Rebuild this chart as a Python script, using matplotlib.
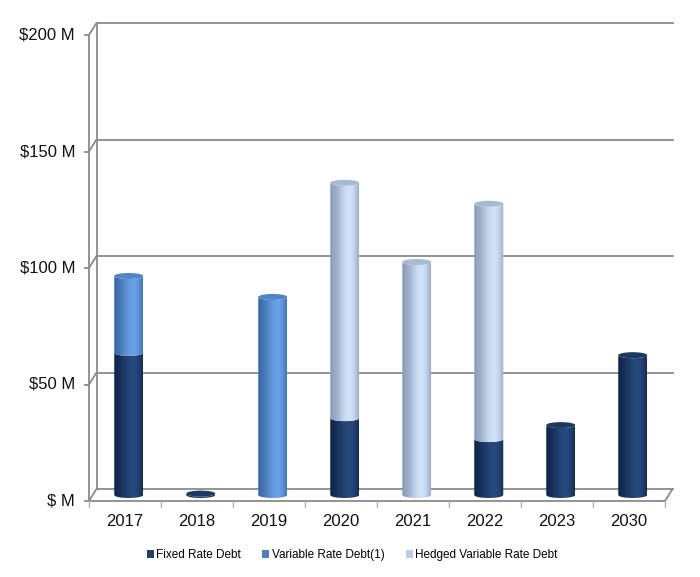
import numpy as np
import matplotlib
matplotlib.use('Agg')
import matplotlib.pyplot as plt
from matplotlib.patches import Ellipse, PathPatch, Patch
from matplotlib.path import Path
import matplotlib.colors as mcolors

plt.rcParams['font.family'] = ['Liberation Sans', 'DejaVu Sans']

years = ['2017', '2018', '2019', '2020', '2021', '2022', '2023', '2030']
fixed = [61, 0.6, 0, 33, 0, 24, 30, 60]
variable = [33, 0, 85, 0, 0, 0, 0, 0]
hedged = [0, 0, 0, 101, 100, 101, 0, 0]
series_names = ['Fixed Rate Debt', 'Variable Rate Debt(1)', 'Hedged Variable Rate Debt']
y_ticks = [0, 50, 100, 150, 200]
y_labels = ['$ M', '$50 M', '$100 M', '$150 M', '$200 M']

# (edge, highlight, top, legend)
styles = [
    ('#11264a', '#284b80', '#1d3862', '#243f60'),
    ('#3b69a8', '#6da5ea', '#4f84c8', '#4f81bd'),
    ('#8a9dba', '#d6e6fc', '#a7b9d3', '#b9cde5'),
]

W, H = 700, 577
fig = plt.figure(figsize=(W / 100, H / 100), dpi=100)
fig.patch.set_facecolor('white')
ax = fig.add_axes([89 / W, 76 / H, 576 / W, 466 / H])
ax.set_xlim(-0.5, 7.5)
ax.set_ylim(0, 200)
ax.axis('off')

pxx = 576 / 8.0     # px per category
pxy = 466 / 200.0   # px per M
DX = 7.5 / pxx
DY = 12 / pxy
gc = '#8a8a8a'
glw = 1.3
n = len(years)

# back wall gridlines and diagonals
for v, lab in zip(y_ticks, y_labels):
    ax.plot([-0.5 + DX, n - 0.5 + DX], [v + DY, v + DY], color=gc, lw=glw, clip_on=False, zorder=1)
    ax.plot([-0.5, -0.5 + DX], [v, v + DY], color=gc, lw=glw, clip_on=False, zorder=1)
    ax.plot([-0.5 - 4 / pxx, -0.5], [v, v], color=gc, lw=glw, clip_on=False, zorder=1)
    ax.text(-0.5 - 14 / pxx, v, lab, ha='right', va='center',
            fontsize=12, color='#111111')
ax.plot([-0.5 + DX, -0.5 + DX], [DY, 200 + DY], color=gc, lw=glw, clip_on=False, zorder=1)
ax.plot([-0.5, -0.5], [0, 200], color=gc, lw=glw, clip_on=False, zorder=1)
# floor
ax.plot([-0.5, n - 0.5], [0, 0], color=gc, lw=glw, clip_on=False, zorder=6)
ax.plot([n - 0.5, n - 0.5 + DX], [0, DY], color=gc, lw=glw, clip_on=False, zorder=6)
for k in range(n + 1):
    ax.plot([k - 0.5, k - 0.5], [0, -6 / pxy], color='#b0b0b0', lw=1.0, clip_on=False, zorder=6)
for i, yr in enumerate(years):
    ax.text(i, -20 / pxy, yr, ha='center', va='center', fontsize=12, color='#111111')

# cylinders
a = 14.5 / pxx
b = 3.0 / pxy
tt = np.linspace(0, 1, 64)


def grad(edge, hl):
    e = np.array(mcolors.to_rgb(edge))
    h = np.array(mcolors.to_rgb(hl))
    w = np.clip(np.sin(np.pi * tt ** 1.6), 0, 1) * 0.8 + 0.2 * tt
    return (e[None, :] + (h - e)[None, :] * w[:, None])[None, :, :]


ang = np.linspace(np.pi, 2 * np.pi, 40)
for i in range(n):
    cx = i + DX / 2
    base = DY / 2
    vals = [fixed[i], variable[i], hedged[i]]
    y0 = base
    top = None
    for s, v in enumerate(vals):
        if v <= 0:
            continue
        y1 = y0 + v
        edge, hl, topc, _ = styles[s]
        xs_b = cx + a * np.cos(ang)
        ys_b = y0 + b * np.sin(ang)
        xs_t = (cx + a * np.cos(ang))[::-1]
        ys_t = (y1 + b * np.sin(ang))[::-1]
        verts = np.vstack([np.column_stack([xs_b, ys_b]),
                           np.column_stack([xs_t, ys_t]),
                           [[xs_b[0], ys_b[0]]]])
        codes = [Path.MOVETO] + [Path.LINETO] * (len(verts) - 2) + [Path.CLOSEPOLY]
        clip = PathPatch(Path(verts, codes), transform=ax.transData)
        im = ax.imshow(grad(edge, hl), extent=[cx - a, cx + a, y0 - b - 1, y1 + 1],
                       aspect='auto', interpolation='bilinear', zorder=3, origin='lower')
        im.set_clip_path(clip)
        y0 = y1
        top = (y1, topc)
    if top is not None:
        ax.add_patch(Ellipse((cx, top[0]), 2 * a, 2 * b, facecolor=top[1],
                             edgecolor='none', zorder=4))

ax.set_xlim(-0.5, 7.5)
ax.set_ylim(0, 200)

handles = [Patch(facecolor=st[3], edgecolor='none') for st in styles]
fig.legend(handles, series_names, loc='center', bbox_to_anchor=(0.503, 1 - 555 / H),
           ncol=3, frameon=False, fontsize=8.5, handlelength=0.6, handleheight=0.6,
           handletextpad=0.2, columnspacing=1.8)

fig.savefig('out.png', dpi=100, facecolor='white')
